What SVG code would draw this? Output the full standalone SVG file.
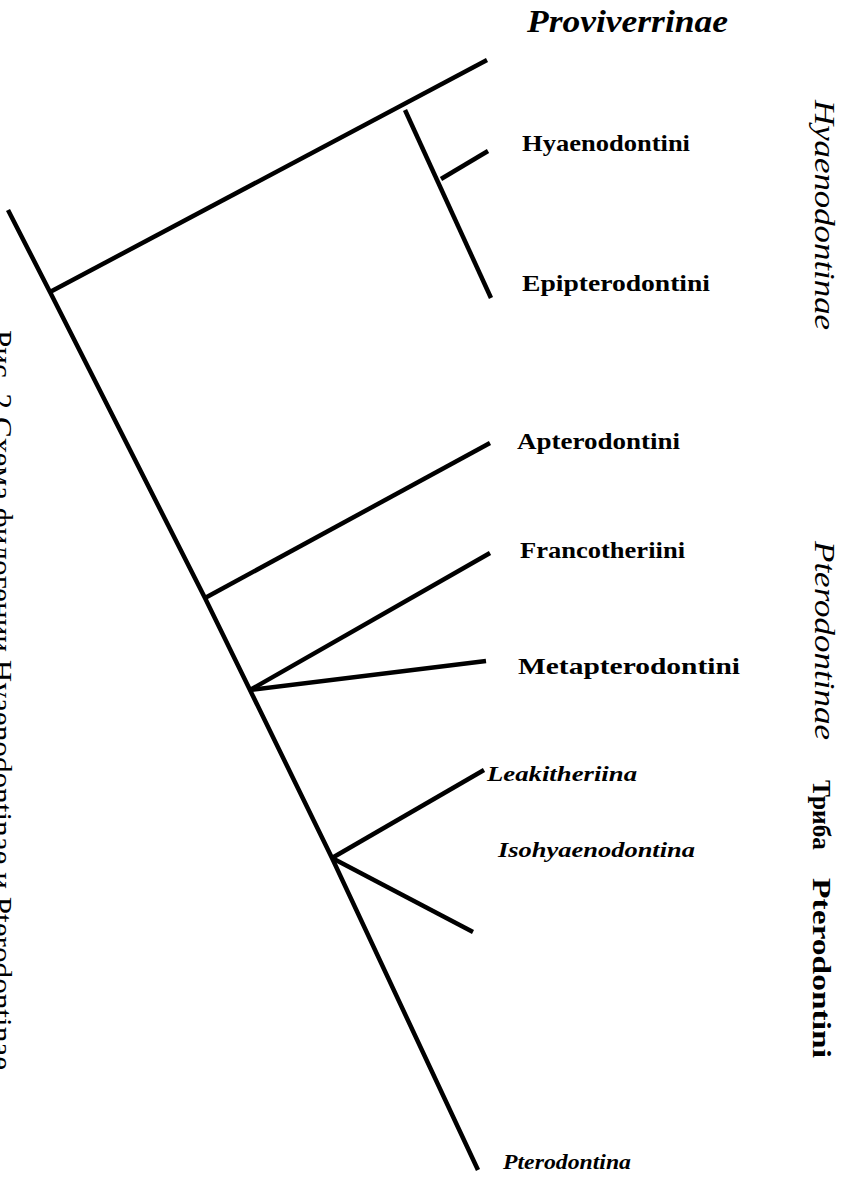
<svg xmlns="http://www.w3.org/2000/svg" width="851" height="1187" viewBox="0 0 851 1187">
<style>
.br{fill:none;stroke:#000;stroke-width:4.5;stroke-linecap:butt;stroke-linejoin:round}
.t{font-family:"Liberation Serif","DejaVu Serif",serif;fill:#000}
.b{font-weight:bold}
.i{font-style:italic}
</style>
<rect width="851" height="1187" fill="#fff"/>
<g id="connectors">
<polyline class="br" points="8,210 50,292 205,598 250,690 332,858 478,1170"/>
<line class="br" x1="50" y1="292" x2="487" y2="60"/>
<line class="br" x1="405" y1="110" x2="491" y2="298"/>
<line class="br" x1="441" y1="179" x2="488" y2="151"/>
<line class="br" x1="205" y1="598" x2="490" y2="443"/>
<line class="br" x1="250" y1="690" x2="490" y2="553"/>
<line class="br" x1="250" y1="690" x2="486" y2="661"/>
<line class="br" x1="332" y1="858" x2="484" y2="770"/>
<line class="br" x1="332" y1="858" x2="473" y2="932"/>
</g>
<g id="proviverrinae"><text class="t b i" x="527" y="32" font-size="31" textLength="201" lengthAdjust="spacingAndGlyphs">Proviverrinae</text></g>
<g id="hyaenodontini"><text class="t b" x="522" y="151" font-size="24" textLength="168" lengthAdjust="spacingAndGlyphs">Hyaenodontini</text></g>
<g id="epipterodontini"><text class="t b" x="522" y="291" font-size="24" textLength="188" lengthAdjust="spacingAndGlyphs">Epipterodontini</text></g>
<g id="apterodontini"><text class="t b" x="517" y="449" font-size="24" textLength="163" lengthAdjust="spacingAndGlyphs">Apterodontini</text></g>
<g id="francotheriini"><text class="t b" x="520" y="558" font-size="24" textLength="165" lengthAdjust="spacingAndGlyphs">Francotheriini</text></g>
<g id="metapterodontini"><text class="t b" x="518" y="674" font-size="24" textLength="222" lengthAdjust="spacingAndGlyphs">Metapterodontini</text></g>
<g id="leakitheriina"><text class="t b i" x="487" y="781" font-size="22" textLength="150" lengthAdjust="spacingAndGlyphs">Leakitheriina</text></g>
<g id="isohyaenodontina"><text class="t b i" x="498" y="857" font-size="22" textLength="197" lengthAdjust="spacingAndGlyphs">Isohyaenodontina</text></g>
<g id="pterodontina"><text class="t b i" x="503" y="1169" font-size="22" textLength="128" lengthAdjust="spacingAndGlyphs">Pterodontina</text></g>
<g id="hyaenodontinae"><text class="t i" transform="translate(815,100) rotate(90)" font-size="30" textLength="230" lengthAdjust="spacingAndGlyphs">Hyaenodontinae</text></g>
<g id="pterodontinae"><text class="t i" transform="translate(815,541) rotate(90)" font-size="30" textLength="199" lengthAdjust="spacingAndGlyphs">Pterodontinae</text></g>
<g id="triba"><text class="t" transform="translate(813,780) rotate(90)" font-size="26"><tspan class="b" textLength="70" lengthAdjust="spacingAndGlyphs">Триба</tspan><tspan class="b" x="98" textLength="180" lengthAdjust="spacingAndGlyphs">Pterodontini</tspan></text></g>
<g id="caption"><text class="t" transform="translate(-8,330) rotate(90)" font-size="30" textLength="740" lengthAdjust="spacingAndGlyphs">Рис. 2 Схема филогении Hyaenodontinae и Pterodontinae</text></g>
</svg>
